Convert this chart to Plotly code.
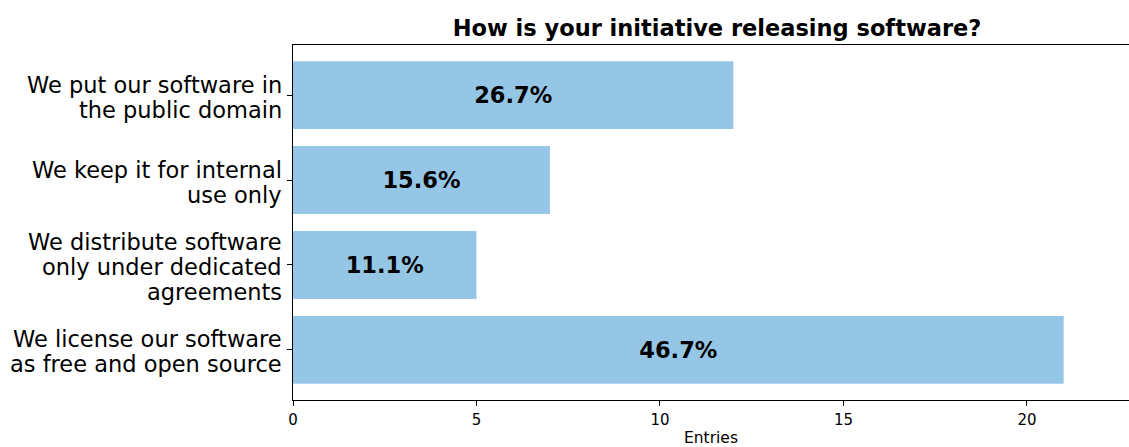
import plotly.graph_objects as go

# Survey answers, listed bottom-to-top as they appear on the chart
categories = [
    "We license our software\nas free and open source",
    "We distribute software\nonly under dedicated\nagreements",
    "We keep it for internal\nuse only",
    "We put our software in\nthe public domain",
]
entries = [21, 5, 7, 12]
x_ticks = [0, 5, 10, 15, 20]

total = sum(entries)
pct_labels = [f"{v / total * 100:.1f}%" for v in entries]

FONT = "DejaVu Sans, Liberation Sans, sans-serif"
LABEL_SIZE = 22.5
LINE_GAP = 25  # px between wrapped category lines

positions = list(range(len(categories)))

fig = go.Figure(
    go.Bar(
        x=entries,
        y=positions,
        orientation="h",
        width=0.8,
        marker=dict(color="#96c6e5", line=dict(width=0)),
        text=pct_labels,
        textposition="inside",
        insidetextanchor="middle",
        textangle=0,
        textfont=dict(family=FONT, size=22.5, color="black", weight="bold"),
        cliponaxis=False,
    )
)

# Category labels: one annotation per wrapped line, stacked around each tick
annotations = []
for pos, label in zip(positions, categories):
    lines = label.split("\n")
    n = len(lines)
    for i, line in enumerate(lines):
        offset = ((n - 1) / 2 - i) * LINE_GAP - 2
        annotations.append(
            dict(
                text=line,
                xref="paper",
                x=0,
                xanchor="right",
                xshift=-9,
                yref="y",
                y=pos,
                yanchor="middle",
                yshift=offset,
                showarrow=False,
                font=dict(family=FONT, size=LABEL_SIZE, color="black"),
            )
        )

fig.update_layout(
    width=1129,
    height=447,
    margin=dict(l=293, r=0, t=45, b=47, autoexpand=False),
    paper_bgcolor="white",
    plot_bgcolor="white",
    font=dict(family=FONT, color="black"),
    showlegend=False,
    annotations=annotations,
    title=dict(
        text="<b>How is your initiative releasing software?</b>",
        font=dict(family=FONT, size=22.5, color="black"),
        x=(717 - 293) / 836,
        xref="paper",
        xanchor="center",
        y=1,
        yref="container",
        yanchor="top",
        pad=dict(t=20),
    ),
)

fig.update_xaxes(
    range=[0, 22.78],
    tickvals=x_ticks,
    ticks="outside",
    ticklen=5,
    tickwidth=1,
    tickcolor="black",
    ticklabelstandoff=1,
    tickfont=dict(family=FONT, size=15, color="black"),
    showline=True,
    linecolor="black",
    linewidth=1,
    mirror=True,
    showgrid=False,
    zeroline=False,
    automargin=False,
    title=dict(text="Entries", font=dict(family=FONT, size=15.5, color="black"), standoff=15),
)

fig.update_yaxes(
    range=[-0.59, 3.59],
    tickvals=positions,
    showticklabels=False,
    ticks="outside",
    ticklen=5,
    tickwidth=1,
    tickcolor="black",
    showline=True,
    linecolor="black",
    linewidth=1,
    showgrid=False,
    zeroline=False,
    automargin=False,
)

fig.write_html("out.html")
